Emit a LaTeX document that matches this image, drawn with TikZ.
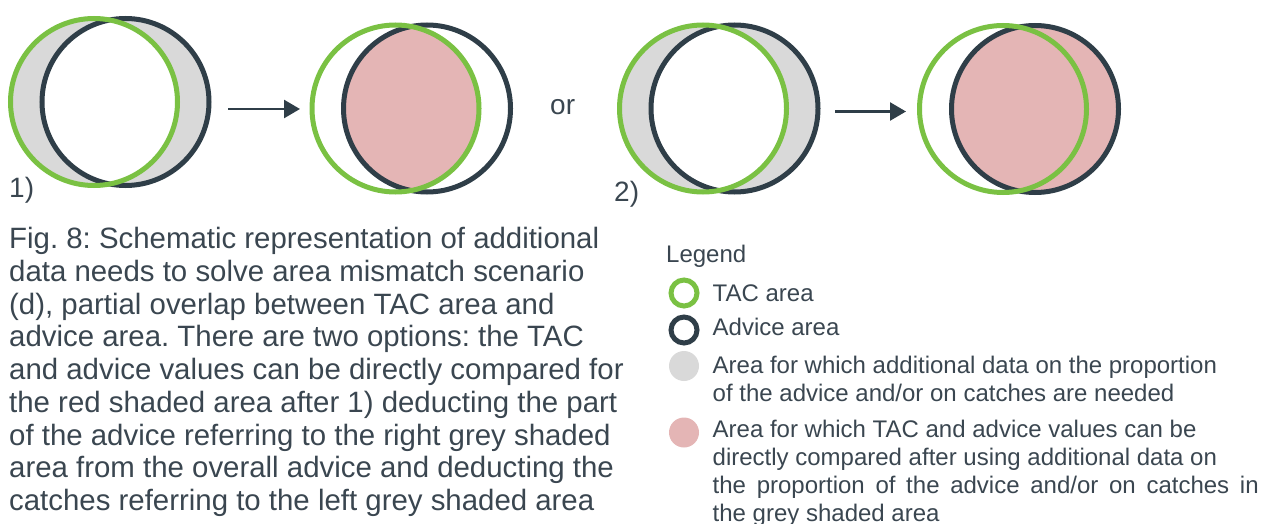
\documentclass[tikz,border=0pt]{standalone}
\usepackage{fontspec}
\setmainfont{Liberation Sans}
\frenchspacing
\usetikzlibrary{arrows.meta}
\definecolor{tacgreen}{HTML}{7AC143}
\definecolor{advdark}{HTML}{2F3E48}
\definecolor{shadegrey}{HTML}{D9D9D9}
\definecolor{shadered}{HTML}{E4B5B5}
\definecolor{txt}{HTML}{3A4650}
\tikzset{
    tac/.style =    {circle,
                    draw=tacgreen,
                    line width=5pt,
                    inner sep=0pt,
                    minimum size=167pt},
    advice/.style = {circle,
                    draw=advdark,
                    line width=5pt,
                    inner sep=0pt,
                    minimum size=167pt},
    greyarea/.style = {fill=shadegrey,
                    even odd rule},
    redarea/.style = {fill=shadered},
    legtac/.style = {circle,
                    draw=tacgreen,
                    line width=5pt,
                    inner sep=0pt,
                    minimum size=26pt},
    legadv/.style = {circle,
                    draw=advdark,
                    line width=5pt,
                    inner sep=0pt,
                    minimum size=26pt},
    legdot/.style = {circle,
                    inner sep=0pt,
                    minimum size=30pt},
    caption/.style = {anchor=base west,
                    inner sep=0pt,
                    text=txt,
                    font=\fontsize{29.4}{32.75}\selectfont},
    legtext/.style = {anchor=base west,
                    inner sep=0pt,
                    text=txt,
                    font=\fontsize{24}{28}\selectfont},
    -,
    >={Triangle[length=16pt,width=18pt]},
    flow/.style =   {->,
                    draw=advdark,
                    line width=2.5pt}}

\begin{document}
\begin{tikzpicture}[x=1pt,y=-1pt]
        \useasboundingbox (0,0) rectangle (1263,524);
        % centres of the circles
        \coordinate (t1) at (94,102);       \coordinate (a1) at (125.5,102);
        \coordinate (t2) at (395.5,108.5);  \coordinate (a2) at (427,108.5);
        \coordinate (t3) at (703,108.5);    \coordinate (a3) at (734.5,108.5);
        \coordinate (t4) at (1003,109);     \coordinate (a4) at (1035,109);
        % shading
        \fill[greyarea] (t1) circle[radius=83.5pt] (a1) circle[radius=83.5pt];
        \fill[greyarea] (t3) circle[radius=83.5pt] (a3) circle[radius=83.5pt];
        \begin{scope}
            \clip (t2) circle[radius=83.5pt];
            \fill[redarea] (a2) circle[radius=83.5pt];
        \end{scope}
        \fill[redarea] (a4) circle[radius=83.5pt];
        \foreach \i in {1,...,4}{
            \node[advice]   (adv\i) at (a\i) {};
            \node[tac]      (tac\i) at (t\i) {};
        }
        % arrows
        \coordinate (s1) at (228,109);      \coordinate (e1) at (300,109);
        \coordinate (s2) at (835,111.5);    \coordinate (e2) at (906,111.5);
        \draw[flow] (s1) -- (e1);
        \draw[flow] (s2) -- (e2);
        \node[caption,font=\fontsize{28}{32}\selectfont] (or)   at (550,114) {or};
        \node[caption,font=\fontsize{28}{32}\selectfont] (one)  at (9,197)   {1)};
        \node[caption,font=\fontsize{28}{32}\selectfont] (two)  at (614,201) {2)};
        % caption
        \node[caption] (fig) at (9,248.5) {\begin{tabular}[t]{@{}l@{}}
            Fig. 8: Schematic representation of additional\\
            data needs to solve area mismatch scenario\\
            (d), partial overlap between TAC area and\\
            advice area. There are two options: the TAC\\
            and advice values can be directly compared for\\
            the red shaded area after 1) deducting the part\\
            of the advice referring to the right grey shaded\\
            area from the overall advice and deducting the\\
            catches referring to the left grey shaded area
        \end{tabular}};
        % legend
        \node[legtext] (leg) at (666,262) {Legend};
        \node[legtac] (ltac) at (684,293) {};
        \node[legadv] (ladv) at (684,330) {};
        \node[legdot,fill=shadegrey] (lgrey) at (684,366) {};
        \node[legdot,fill=shadered]  (lred)  at (684,432.5) {};
        \node[legtext] (ttac)  at (712.5,301.5) {TAC area};
        \node[legtext] (tadv)  at (712.5,335) {Advice area};
        \node[legtext] (tgrey) at (712.5,373) {\begin{tabular}[t]{@{}l@{}}
            Area for which additional data on the proportion\\
            of the advice and/or on catches are needed
        \end{tabular}};
        \node[legtext] (tred)  at (712.5,437) {\begin{tabular}[t]{@{}l@{}}
            Area for which TAC and advice values can be\\
            directly compared after using additional data on\\
            \makebox[546pt][s]{the proportion of the advice and/or on catches in}\\
            the grey shaded area
        \end{tabular}};
\end{tikzpicture}
\end{document}
